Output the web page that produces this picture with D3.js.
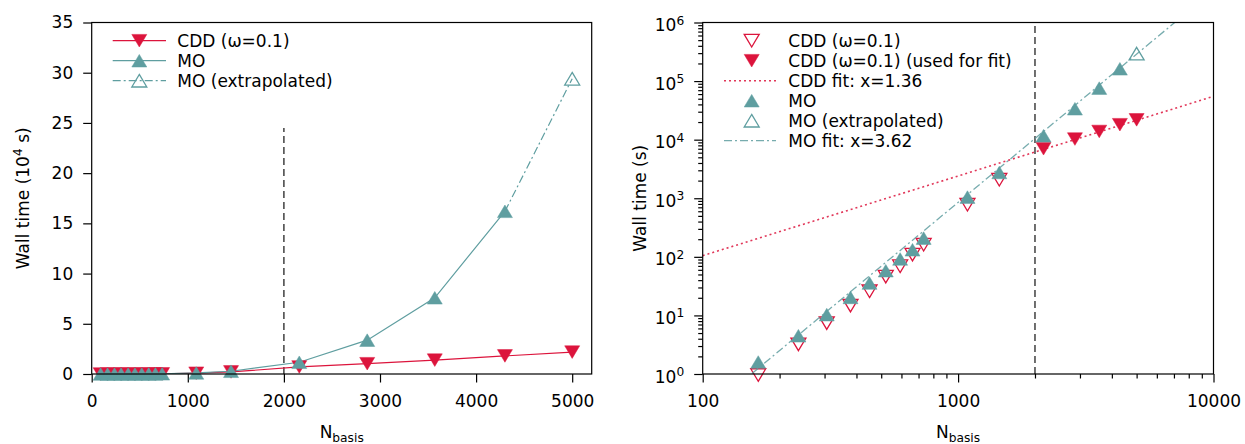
<!DOCTYPE html>
<html>
<head>
<meta charset="utf-8">
<script src="https://cdn.jsdelivr.net/npm/d3@7"></script>
<style>
  body { margin: 0; background: #fff; }
  text { font-family: "DejaVu Sans", sans-serif; }
</style>
</head>
<body>
<svg id="chart" width="1245" height="444"></svg>
<script>
// basis size for each run
const nBasis = [93, 165, 237, 306, 379, 450, 521, 593, 663, 733, 1088, 1450, 2160, 2867, 3570, 4300, 5000];
// wall times in seconds
const cddTime = [0.15, 0.96, 3.2, 7.4, 14.7, 25.8, 46, 69, 109, 161, 776, 2070, 7000, 10240, 13800, 18000, 21800];
const moTime = [0.2, 1.6, 4.5, 10.3, 20.3, 35.7, 58, 92, 132, 209, 1047, 2755, 11670, 33700, 75900, 162000];
const moExtraN = [4300, 5000];
const moExtraTime = [162000, 294000];
// power law fits t = 10^logA * N^x
const cddFit = { x: 1.36, logA: -0.70 };
const moFit = { x: 3.62, logA: -7.93 };
const fitCut = 2000;

const xTicksLin = [0, 1000, 2000, 3000, 4000, 5000];
const yTicksLin = [0, 5, 10, 15, 20, 25, 30, 35];
const xTicksLog = [100, 1000, 10000];
const yTicksLog = [1, 10, 100, 1000, 10000, 100000, 1000000];

const crimson = "#dc143c";
const teal = "#5f9ea0";
const fs = 17;

const svg = d3.select("#chart");

const L = { x0: 91.7, x1: 591.7, y0: 22.5, y1: 374 };
const R = { x0: 702.7, x1: 1213.5, y0: 22.5, y1: 374 };

const xL = d3.scaleLinear().domain([0, 5203]).range([L.x0, L.x1]);
const yL = d3.scaleLinear().domain([0, 35]).range([L.y1, L.y0]);
const xR = d3.scaleLog().domain([100, 10000]).range([R.x0, R.x1]);
const yR = d3.scaleLog().domain([1, 1e6]).range([R.y1, R.y0]);

function tri(dir) {
  const w = 7.5, h = 6.3;
  return dir === "up"
    ? `M0,${-h}L${w},${h}L${-w},${h}Z`
    : `M0,${h}L${w},${-h}L${-w},${-h}Z`;
}

function markers(g, pts, dir, color, open) {
  g.selectAll(null)
    .data(pts)
    .join("path")
    .attr("transform", (d) => `translate(${d[0]},${d[1]})`)
    .attr("d", tri(dir))
    .attr("fill", open ? "none" : color)
    .attr("stroke", color)
    .attr("stroke-width", open ? 1.3 : 0.5);
}

function clip(id, b) {
  svg.append("clipPath").attr("id", id)
    .append("rect")
    .attr("x", b.x0).attr("y", b.y0)
    .attr("width", b.x1 - b.x0).attr("height", b.y1 - b.y0);
}
clip("clipL", L);
clip("clipR", R);

function styleAxis(g) {
  g.select(".domain").remove();
  g.selectAll("line").attr("stroke", "#000").attr("stroke-width", 1.2);
  g.selectAll("text").attr("font-size", fs).attr("fill", "#000")
    .attr("font-family", "DejaVu Sans");
}

function frame(b) {
  svg.append("rect")
    .attr("x", b.x0).attr("y", b.y0)
    .attr("width", b.x1 - b.x0).attr("height", b.y1 - b.y0)
    .attr("fill", "none").attr("stroke", "#000").attr("stroke-width", 1.2);
}

function xLabel(cx) {
  const t = svg.append("text")
    .attr("x", cx).attr("y", 438)
    .attr("text-anchor", "middle")
    .attr("font-size", fs);
  t.append("tspan").text("N");
  t.append("tspan").attr("dy", 4).attr("font-size", fs * 0.72).text("basis");
}

// ---------- left panel (linear) ----------
const gL = svg.append("g");

gL.append("g")
  .attr("transform", `translate(0,${L.y1})`)
  .call(d3.axisBottom(xL).tickValues(xTicksLin).tickSize(8.5).tickPadding(12).tickFormat(d3.format("d")))
  .call(styleAxis);

gL.append("g")
  .attr("transform", `translate(${L.x0},0)`)
  .call(d3.axisLeft(yL).tickValues(yTicksLin).tickSize(8.5).tickPadding(10))
  .call(styleAxis);

// cutoff line, 70% of the axis height
gL.append("line")
  .attr("x1", xL(fitCut)).attr("x2", xL(fitCut))
  .attr("y1", yL(0)).attr("y2", yL(35 * 0.7))
  .attr("stroke", "#333").attr("stroke-width", 1.4)
  .attr("stroke-dasharray", "7,4");

const lineL = d3.line().x((d) => xL(d[0])).y((d) => yL(d[1] / 1e4));
const cddPts = nBasis.map((n, i) => [n, cddTime[i]]);
const moPts = moTime.map((t, i) => [nBasis[i], t]);
const moExPts = moExtraN.map((n, i) => [n, moExtraTime[i]]);

const plotL = gL.append("g").attr("clip-path", "url(#clipL)");
plotL.append("path").datum(cddPts).attr("d", lineL)
  .attr("fill", "none").attr("stroke", crimson).attr("stroke-width", 1.2);
const mkL = gL.append("g");
markers(mkL, cddPts.map((d) => [xL(d[0]), yL(d[1] / 1e4)]), "down", crimson, false);

plotL.append("path").datum(moPts).attr("d", lineL)
  .attr("fill", "none").attr("stroke", teal).attr("stroke-width", 1.2);
plotL.append("path").datum(moExPts).attr("d", lineL)
  .attr("fill", "none").attr("stroke", teal).attr("stroke-width", 1.2)
  .attr("stroke-dasharray", "8,3,2,3");
const mkL2 = gL.append("g");
markers(mkL2, moPts.map((d) => [xL(d[0]), yL(d[1] / 1e4)]), "up", teal, false);
markers(mkL2, moExPts.slice(1).map((d) => [xL(d[0]), yL(d[1] / 1e4)]), "up", teal, true);

frame(L);
xLabel((L.x0 + L.x1) / 2);

const yl = svg.append("text")
  .attr("transform", `translate(29,${(L.y0 + L.y1) / 2}) rotate(-90)`)
  .attr("text-anchor", "middle")
  .attr("font-size", fs);
yl.append("tspan").text("Wall time (10");
yl.append("tspan").attr("dy", -7).attr("font-size", fs * 0.72).text("4");
yl.append("tspan").attr("dy", 7).text(" s)");

// left legend
const legL = [
  { label: "CDD (ω=0.1)", color: crimson, dir: "down", open: false, dash: null },
  { label: "MO", color: teal, dir: "up", open: false, dash: null },
  { label: "MO (extrapolated)", color: teal, dir: "up", open: true, dash: "8,3,2,3" },
];
legL.forEach((d, i) => {
  const y = 40.7 + i * 20;
  svg.append("line")
    .attr("x1", 112.7).attr("x2", 166).attr("y1", y).attr("y2", y)
    .attr("stroke", d.color).attr("stroke-width", 1.2)
    .attr("stroke-dasharray", d.dash);
  markers(svg.append("g"), [[139.3, y]], d.dir, d.color, d.open);
  svg.append("text").attr("x", 177.3).attr("y", y).attr("dy", "0.36em")
    .attr("font-size", fs).text(d.label);
});

// ---------- right panel (log-log) ----------
const gR = svg.append("g");

gR.append("g")
  .attr("transform", `translate(0,${R.y1})`)
  .call(d3.axisBottom(xR).tickValues(xTicksLog).tickSize(8.5).tickPadding(12).tickFormat(d3.format("d")))
  .call(styleAxis);
const xMinor = [];
[100, 1000].forEach((b) => { for (let k = 2; k <= 9; k++) xMinor.push(b * k); });
gR.append("g")
  .attr("transform", `translate(0,${R.y1})`)
  .call(d3.axisBottom(xR).tickValues(xMinor).tickSize(4.5).tickFormat(""))
  .call(styleAxis);

gR.append("g")
  .attr("transform", `translate(${R.x0},0)`)
  .call(d3.axisLeft(yR).tickValues(yTicksLog).tickSize(8.5).tickPadding(10).tickFormat(""))
  .call(styleAxis)
  .selectAll(".tick text")
  .each(function (d) {
    const t = d3.select(this).attr("dy", null).attr("y", 8);
    t.append("tspan").text("10");
    t.append("tspan").attr("dy", -6.5).attr("font-size", fs * 0.72)
      .text(Math.round(Math.log10(d)));
  });
const yMinor = [];
[1, 10, 100, 1000, 10000, 100000].forEach((b) => { for (let k = 2; k <= 9; k++) yMinor.push(b * k); });
gR.append("g")
  .attr("transform", `translate(${R.x0},0)`)
  .call(d3.axisLeft(yR).tickValues(yMinor).tickSize(4.5).tickFormat(""))
  .call(styleAxis);

gR.append("line")
  .attr("x1", xR(fitCut)).attr("x2", xR(fitCut))
  .attr("y1", R.y1).attr("y2", R.y0)
  .attr("stroke", "#333").attr("stroke-width", 1.4)
  .attr("stroke-dasharray", "7,4");

// points whose centre is below 10^0 are left off the log plot
const onLog = (d) => d[1] >= 0.9;
const toR = (d) => [xR(d[0]), yR(d[1])];

const mkR = gR.append("g");
markers(mkR, cddPts.filter((d) => d[0] < fitCut && onLog(d)).map(toR), "down", crimson, true);
markers(mkR, cddPts.filter((d) => d[0] >= fitCut).map(toR), "down", crimson, false);

const fitLine = (f) => [100, 10000].map((n) => [n, Math.pow(10, f.logA) * Math.pow(n, f.x)]);
const lineR = d3.line().x((d) => xR(d[0])).y((d) => yR(d[1]));
const plotR = gR.append("g").attr("clip-path", "url(#clipR)");
plotR.append("path").datum(fitLine(cddFit)).attr("d", lineR)
  .attr("fill", "none").attr("stroke", crimson).attr("stroke-opacity", 0.85)
  .attr("stroke-width", 1.6).attr("stroke-dasharray", "2,3");

const mkR2 = gR.append("g");
markers(mkR2, moPts.filter(onLog).map(toR), "up", teal, false);
markers(mkR2, moExPts.slice(1).map(toR), "up", teal, true);

const plotR2 = gR.append("g").attr("clip-path", "url(#clipR)");
plotR2.append("path").datum(fitLine(moFit)).attr("d", lineR)
  .attr("fill", "none").attr("stroke", teal).attr("stroke-opacity", 0.85)
  .attr("stroke-width", 1.3).attr("stroke-dasharray", "8,3,2,3");

frame(R);
xLabel((R.x0 + R.x1) / 2);

svg.append("text")
  .attr("transform", `translate(646,${(R.y0 + R.y1) / 2}) rotate(-90)`)
  .attr("text-anchor", "middle")
  .attr("font-size", fs)
  .text("Wall time (s)");

// right legend
const legR = [
  { label: "CDD (ω=0.1)", color: crimson, dir: "down", open: true },
  { label: "CDD (ω=0.1) (used for fit)", color: crimson, dir: "down", open: false },
  { label: "CDD fit: x=1.36", color: crimson, dash: "2,3" },
  { label: "MO", color: teal, dir: "up", open: false },
  { label: "MO (extrapolated)", color: teal, dir: "up", open: true },
  { label: "MO fit: x=3.62", color: teal, dash: "8,3,2,3" },
];
legR.forEach((d, i) => {
  const y = 40.7 + i * 20;
  if (d.dash) {
    svg.append("line")
      .attr("x1", 724).attr("x2", 776).attr("y1", y).attr("y2", y)
      .attr("stroke", d.color).attr("stroke-opacity", 0.85)
      .attr("stroke-width", d.dash === "2,3" ? 1.6 : 1.3)
      .attr("stroke-dasharray", d.dash);
  } else {
    markers(svg.append("g"), [[751.7, y]], d.dir, d.color, d.open);
  }
  svg.append("text").attr("x", 788.3).attr("y", y).attr("dy", "0.36em")
    .attr("font-size", fs).text(d.label);
});
</script>
</body>
</html>
